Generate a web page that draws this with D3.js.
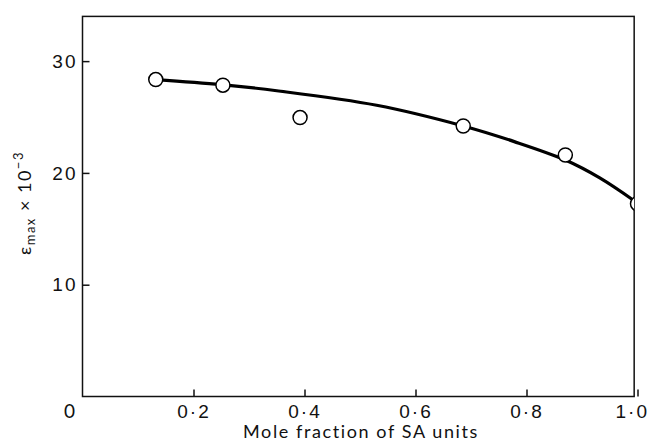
<!DOCTYPE html>
<html>
<head>
<meta charset="utf-8">
<script src="https://cdn.jsdelivr.net/npm/d3@7"></script>
<style>
  body { margin: 0; background: #fff; }
  svg { display: block; font-family: Lato, "Open Sans", sans-serif; }
</style>
</head>
<body>
<svg id="chart" width="648" height="444"></svg>
<script>
// measured points (mole fraction of SA units, eps max x 10^-3)
const moleFrac = [0.132, 0.253, 0.392, 0.686, 0.870, 1.0];
const epsMax = [28.35, 27.85, 24.95, 24.2, 21.6, 17.25];

// smooth curve drawn through the data by hand
const curveX = [0.132, 0.25, 0.35, 0.53, 0.686, 0.778, 0.87, 0.932, 1.0];
const curveY = [28.35, 27.9, 27.35, 26.05, 24.2, 22.8, 21.15, 19.55, 17.3];

const xTicks = [0.2, 0.4, 0.6, 0.8, 1.0];
const yTicks = [10, 20, 30];

const svg = d3.select("#chart");

const x = d3.scaleLinear().domain([0, 1]).range([82.5, 637.5]);
const y = d3.scaleLinear().domain([0, 34]).range([396.5, 16.4]);
const xRight = 0.994; // frame ends just short of 1.0

const fmt = (d) => d3.format(".1f")(d).replace(".", "·");

svg.append("clipPath").attr("id", "plot")
  .append("rect")
  .attr("x", x(0)).attr("y", y(34))
  .attr("width", x(xRight) - x(0)).attr("height", y(0) - y(34));

// x axis
const gx = svg.append("g")
  .attr("transform", `translate(0,${y(0)})`)
  .call(d3.axisBottom(x).tickValues(xTicks).tickSize(-7).tickPadding(8).tickFormat(fmt));
gx.select(".domain").remove();
gx.selectAll("line").attr("stroke-width", 1.5).attr("stroke", "#111");
gx.selectAll("text").attr("font-size", 19).attr("letter-spacing", 2).attr("fill", "#111");
// last label sits against the right edge
gx.selectAll(".tick").filter((d) => d === 1.0).select("text")
  .attr("text-anchor", "end").attr("x", 11);

// y axis
const gy = svg.append("g")
  .attr("transform", `translate(${x(0)},0)`)
  .call(d3.axisLeft(y).tickValues(yTicks).tickSize(-7).tickPadding(5));
gy.select(".domain").remove();
gy.selectAll("line").attr("stroke-width", 1.5).attr("stroke", "#111");
gy.selectAll("text").attr("font-size", 19).attr("letter-spacing", 2).attr("fill", "#111");

// shared origin label
svg.append("text")
  .attr("x", x(0) - 13).attr("y", y(0) + 8).attr("dy", "0.71em")
  .attr("text-anchor", "middle").attr("font-size", 19).attr("fill", "#111")
  .text("0");

// frame
svg.append("rect")
  .attr("x", x(0)).attr("y", y(34))
  .attr("width", x(xRight) - x(0)).attr("height", y(0) - y(34))
  .attr("fill", "none").attr("stroke", "#111").attr("stroke-width", 1.5);

// fitted curve
const line = d3.line()
  .x((d) => x(d))
  .y((d, i) => y(curveY[i]))
  .curve(d3.curveCatmullRom.alpha(0.5));

const plot = svg.append("g").attr("clip-path", "url(#plot)");
plot.append("path")
  .attr("d", line(curveX))
  .attr("fill", "none").attr("stroke", "#000").attr("stroke-width", 3.2);

plot.selectAll("circle")
  .data(moleFrac)
  .join("circle")
  .attr("cx", (d) => x(d))
  .attr("cy", (d, i) => y(epsMax[i]))
  .attr("r", 7)
  .attr("fill", "#fff").attr("stroke", "#000").attr("stroke-width", 1.5);

// axis titles
svg.append("text")
  .attr("x", 361).attr("y", 438)
  .attr("text-anchor", "middle").attr("font-size", 18).attr("letter-spacing", 1.6)
  .attr("fill", "#111")
  .text("Mole fraction of SA units");

const ylab = svg.append("text")
  .attr("transform", "translate(31,203) rotate(-90)")
  .attr("text-anchor", "middle").attr("font-size", 18).attr("letter-spacing", 1.5)
  .attr("fill", "#111");
ylab.append("tspan").text("ε");
ylab.append("tspan").attr("font-size", 13).attr("dy", 4).text("max");
ylab.append("tspan").attr("dy", -4).text(" × 10");
ylab.append("tspan").attr("font-size", 13).attr("dy", -8).text("−3");
</script>
</body>
</html>
